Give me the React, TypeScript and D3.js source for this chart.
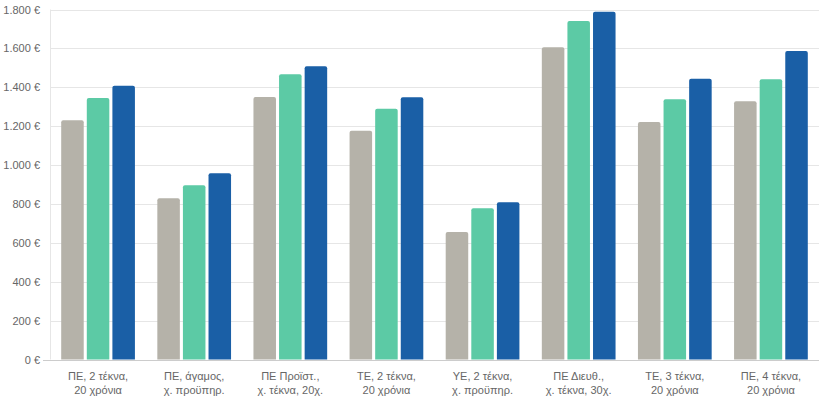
import * as d3 from "d3";

const categories = [
  ["ΠΕ, 2 τέκνα,", "20 χρόνια"],
  ["ΠΕ, άγαμος,", "χ. προϋπηρ."],
  ["ΠΕ Προϊστ.,", "χ. τέκνα, 20χ."],
  ["ΤΕ, 2 τέκνα,", "20 χρόνια"],
  ["ΥΕ, 2 τέκνα,", "χ. προϋπηρ."],
  ["ΠΕ Διευθ.,", "χ. τέκνα, 30χ."],
  ["ΤΕ, 3 τέκνα,", "20 χρόνια"],
  ["ΠΕ, 4 τέκνα,", "20 χρόνια"],
];

const seriesA = [1230, 829, 1350, 1177, 656, 1606, 1222, 1328];
const seriesB = [1345, 896, 1467, 1289, 778, 1741, 1338, 1441];
const seriesC = [1408, 958, 1508, 1349, 809, 1789, 1444, 1587];

const yTicks = [0, 200, 400, 600, 800, 1000, 1200, 1400, 1600, 1800];

const series = [
  { key: "a", values: seriesA, color: "#b5b2a9" },
  { key: "b", values: seriesB, color: "#5ccaa5" },
  { key: "c", values: seriesC, color: "#1a5fa6" },
];

const width = 820;
const height = 400;
const marginLeft = 50;
const marginRight = 1;
const marginTop = 9.5;
const marginBottom = 40.5;

const fmt = (v: number) =>
  (v >= 1000 ? `${Math.floor(v / 1000)}.${String(v % 1000).padStart(3, "0")}` : `${v}`) + " €";

function topRounded(x: number, y: number, w: number, h: number, r: number) {
  r = Math.min(r, w / 2, h);
  return `M${x},${y + h}V${y + r}a${r},${r} 0 0 1 ${r},${-r}h${w - 2 * r}a${r},${r} 0 0 1 ${r},${r}V${y + h}Z`;
}

export default function App() {
  const x0 = d3
    .scaleBand()
    .domain(categories.map((_, i) => String(i)))
    .range([marginLeft, width - marginRight]);
  const inner = 11.2;
  const x1 = d3
    .scaleBand()
    .domain(series.map((s) => s.key))
    .range([inner, x0.bandwidth() - inner])
    .paddingInner(0.12);
  const y = d3
    .scaleLinear()
    .domain([0, 1800])
    .range([height - marginBottom, marginTop]);

  const font = "'Liberation Sans', Arial, sans-serif";

  return (
    <svg
      width={width}
      height={height}
      style={{ position: "absolute", left: 0, top: 0, background: "#fff" }}
      fontFamily={font}
    >
      <g>
        {yTicks.map((t) => (
          <g key={t}>
            {t > 0 && (
              <line
                x1={marginLeft}
                x2={width - marginRight}
                y1={Math.round(y(t)) + 0.5}
                y2={Math.round(y(t)) + 0.5}
                stroke="#e6e6e6"
              />
            )}
            <text
              x={40}
              y={y(t) + 4}
              textAnchor="end"
              fontSize={11}
              fill="#666666"
            >
              {fmt(t)}
            </text>
          </g>
        ))}
      </g>
      <line
        x1={marginLeft + 0.5}
        x2={marginLeft + 0.5}
        y1={marginTop}
        y2={y(0)}
        stroke="#e6e6e6"
      />
      <g>
        {categories.map((_, i) =>
          series.map((s) => {
            const bx = (x0(String(i)) as number) + (x1(s.key) as number);
            const by = y(s.values[i]);
            return (
              <path
                key={`${i}-${s.key}`}
                d={topRounded(bx, by, x1.bandwidth(), y(0) - by, 2)}
                fill={s.color}
              />
            );
          })
        )}
      </g>
      <line
        x1={43}
        x2={width - marginRight}
        y1={Math.round(y(0)) + 0.5}
        y2={Math.round(y(0)) + 0.5}
        stroke="#cccccc"
      />
      <g>
        {categories.map((c, i) => {
          const cx = (x0(String(i)) as number) + x0.bandwidth() / 2;
          return (
            <text key={i} textAnchor="middle" fontSize={11} fill="#666666">
              <tspan x={cx} y={380}>
                {c[0]}
              </tspan>
              <tspan x={cx} y={393.5}>
                {c[1]}
              </tspan>
            </text>
          );
        })}
      </g>
    </svg>
  );
}
